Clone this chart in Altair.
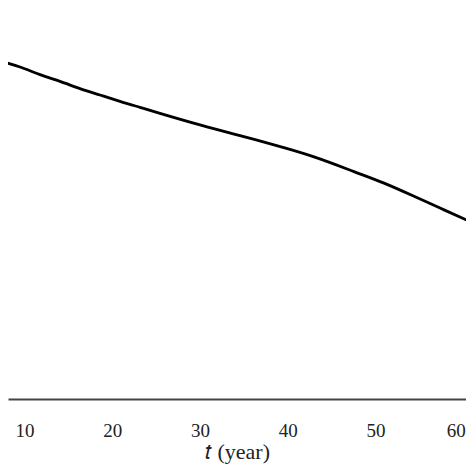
"""Declining curve over time, cropped figure recreation."""

import altair as alt
import pandas as pd

YEARS = [7.21, 9.49, 11.77, 14.05, 16.32, 18.60, 20.88, 23.16, 25.44, 30.0,
         34.56, 38.43, 42.99, 47.55, 50.97, 54.39, 57.81, 61.22]
VALUES = [0.847, 0.832, 0.813, 0.796, 0.778, 0.762, 0.746, 0.731, 0.716, 0.687,
          0.660, 0.637, 0.607, 0.570, 0.541, 0.508, 0.474, 0.440]
X_TICKS = [10, 20, 30, 40, 50, 60]

FONT = 'Liberation Serif'

df = pd.DataFrame({'t': YEARS, 'value': VALUES})

chart = alt.Chart(df).mark_line(
    color='black', strokeWidth=2.8, interpolate='natural', clip=True
).encode(
    x=alt.X('t:Q', title='𝑡 (year)',
            scale=alt.Scale(domain=[8.12, 60.31], nice=False, zero=False),
            axis=alt.Axis(values=X_TICKS, grid=False, ticks=False, tickSize=0,
                          labelFlush=10, labelFlushOffset=2, labelPadding=22,
                          labelFontSize=19, labelFont=FONT, labelColor='#222',
                          domainColor='#444', domainWidth=2,
                          titleFont=FONT, titleFontSize=22, titleFontWeight='normal',
                          titleColor='#222', titlePadding=1)),
    y=alt.Y('value:Q', title=None,
            scale=alt.Scale(domain=[0, 0.98], nice=False),
            axis=None),
).properties(
    width=458, height=391,
    autosize=alt.AutoSizeParams(type='none'),
    padding={'left': 0, 'top': 0, 'right': 0, 'bottom': 67},
).configure_view(stroke=None)

chart.save('out.html', embed_options={'renderer': 'svg', 'actions': False})
